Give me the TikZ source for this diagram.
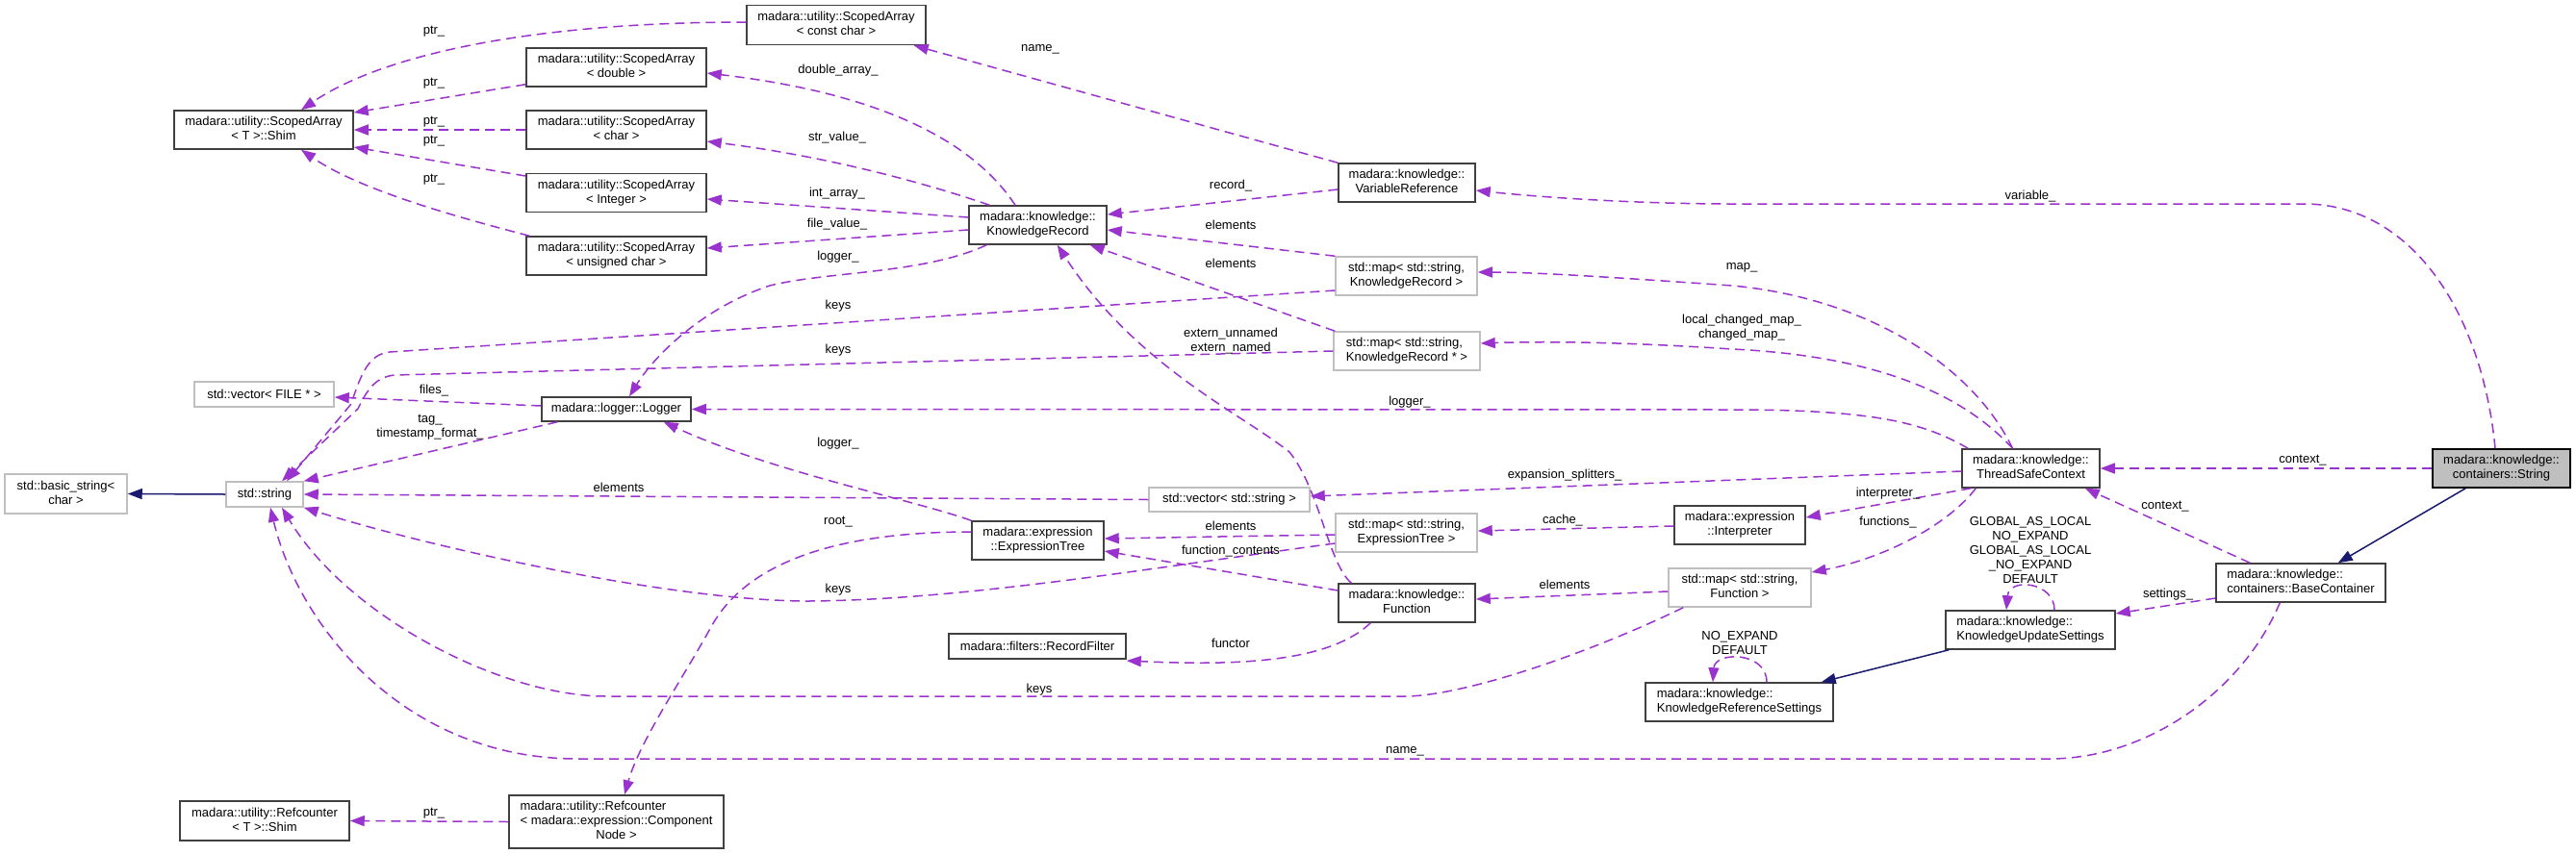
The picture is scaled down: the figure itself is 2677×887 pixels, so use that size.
\documentclass[tikz,border=0pt]{standalone}
\usepackage{fontspec}
\setmainfont{Liberation Sans}
\usetikzlibrary{arrows.meta}
\definecolor{purp}{HTML}{9A32CD}
\definecolor{navyb}{HTML}{191970}
\definecolor{grayb}{HTML}{BFBFBF}
\definecolor{boxb}{HTML}{404040}
\newcommand{\tl}[2]{\begin{tabular}{@{}l@{}}#1\\\multicolumn{1}{@{}c@{}}{#2}\end{tabular}}
\tikzset{
  txt/.style={font=\fontsize{13}{15}\selectfont},
  box/.style={txt, draw=boxb, fill=white, line width=1.5pt, inner sep=0pt, rectangle},
  gbox/.style={box, draw=grayb},
  lbl/.style={txt, inner sep=0pt, align=center},
  dep/.style={draw=purp, line width=1.5pt, dash pattern=on 10pt off 6pt, -{Triangle[length=15pt,width=11pt,fill=purp]}},
  inh/.style={draw=navyb, line width=1.5pt, -{Triangle[length=15pt,width=11pt,fill=navyb]}}
}
\begin{document}
\begin{tikzpicture}[x=1pt,y=-1pt]
\useasboundingbox (0,0) rectangle (2677,887);
% nodes
\node[box, minimum width=186pt, minimum height=41pt] (cchar) at (869,26) {\tl{madara::utility::ScopedArray}{< const char >}};
\node[box, minimum width=186pt, minimum height=40pt] (shim) at (274,135) {\tl{madara::utility::ScopedArray}{< T >::Shim}};
\node[box, minimum width=187pt, minimum height=40pt] (dbl) at (640.5,70) {\tl{madara::utility::ScopedArray}{< double >}};
\node[box, minimum width=187pt, minimum height=40pt] (chr) at (640.5,135) {\tl{madara::utility::ScopedArray}{< char >}};
\node[box, minimum width=187pt, minimum height=40pt] (intg) at (640.5,200.5) {\tl{madara::utility::ScopedArray}{< Integer >}};
\node[box, minimum width=187pt, minimum height=40pt] (uchar) at (640.5,266) {\tl{madara::utility::ScopedArray}{< unsigned char >}};
\node[gbox, minimum width=145pt, minimum height=26pt] (vfile) at (274.5,410) {std::vector< FILE * >};
\node[box, minimum width=155pt, minimum height=25pt] (logger) at (640.5,425.5) {madara::logger::Logger};
\node[box, minimum width=142pt, minimum height=40pt] (vr) at (1462,190) {\tl{madara::knowledge::}{VariableReference}};
\node[box, minimum width=143pt, minimum height=40pt] (kr) at (1078.5,234) {\tl{madara::knowledge::}{KnowledgeRecord}};
\node[gbox, minimum width=147pt, minimum height=40pt] (mapkr) at (1461.5,287) {\tl{std::map< std::string,}{KnowledgeRecord >}};
\node[gbox, minimum width=152pt, minimum height=40pt] (mapkrp) at (1462,365) {\tl{std::map< std::string,}{KnowledgeRecord * >}};
\node[gbox, minimum width=127pt, minimum height=41pt] (bstr) at (68.5,513.5) {\tl{std::basic\_string<}{char >}};
\node[gbox, minimum width=80pt, minimum height=26pt] (str) at (275,514) {std::string};
\node[box, minimum width=176pt, minimum height=41pt] (rcshim) at (275,853.5) {\tl{madara::utility::Refcounter}{< T >::Shim}};
\node[box, minimum width=223pt, minimum height=55pt] (rccn) at (640.5,854.5) {\begin{tabular}{@{}l@{}}madara::utility::Refcounter\\< madara::expression::Component\\\multicolumn{1}{@{}c@{}}{Node >}\end{tabular}};
\node[gbox, minimum width=167pt, minimum height=25pt] (vstr) at (1277.5,519.5) {std::vector< std::string >};
\node[box, minimum width=137pt, minimum height=40pt] (et) at (1078.5,562) {\tl{madara::expression}{::ExpressionTree}};
\node[gbox, minimum width=147pt, minimum height=40pt] (mapet) at (1461.5,554) {\tl{std::map< std::string,}{ExpressionTree >}};
\node[box, minimum width=136pt, minimum height=40pt] (interp) at (1808,546) {\tl{madara::expression}{::Interpreter}};
\node[box, minimum width=142pt, minimum height=40pt] (func) at (1462,627) {\tl{madara::knowledge::}{Function}};
\node[gbox, minimum width=148pt, minimum height=40pt] (mapfn) at (1808,611) {\tl{std::map< std::string,}{Function >}};
\node[box, minimum width=184pt, minimum height=26pt] (rf) at (1078,672) {madara::filters::RecordFilter};
\node[box, minimum width=195pt, minimum height=40pt] (krs) at (1807.5,730) {\tl{madara::knowledge::}{KnowledgeReferenceSettings}};
\node[box, minimum width=143pt, minimum height=40pt] (tsc) at (2110.5,487) {\tl{madara::knowledge::}{ThreadSafeContext}};
\node[box, fill=grayb, draw=black, minimum width=143pt, minimum height=40pt] (string) at (2599.5,487) {\tl{madara::knowledge::}{containers::String}};
\node[box, minimum width=176pt, minimum height=40pt] (bc) at (2391,606) {\tl{madara::knowledge::}{containers::BaseContainer}};
\node[box, minimum width=176pt, minimum height=40pt] (kus) at (2110,655) {\tl{madara::knowledge::}{KnowledgeUpdateSettings}};
% edges
\draw[dep] ([yshift=3pt]cchar.west) .. controls (560,23) and (400,55) .. ([xshift=39pt]shim.north);
\draw[dep] ([yshift=3pt]dbl.south west) -- ([yshift=18pt]shim.east);
\draw[dep] (chr.west) -- (shim.east);
\draw[dep] ([yshift=17.5pt]intg.west) -- ([yshift=-18pt]shim.east);
\draw[dep] ([xshift=4pt]uchar.north west) .. controls (460,222) and (370,195) .. ([xshift=39pt]shim.south);
\draw[dep] ([xshift=-23.5pt]kr.north) .. controls (1020,160) and (940,100) .. ([yshift=-6pt]dbl.east);
\draw[dep] ([xshift=22pt]kr.north west) .. controls (990,200) and (880,165) .. ([yshift=-12pt]chr.east);
\draw[dep] ([yshift=8pt]kr.west) -- ([yshift=-6.5pt]intg.east);
\draw[dep] ([yshift=-5pt]kr.west) -- ([yshift=8pt]uchar.east);
\draw[dep] ([xshift=19pt]kr.south west) .. controls (960,285) and (860,282) .. (800,297) .. controls (730,320) and (680,370) .. ([xshift=13.5pt]logger.north);
\draw[dep] (vr.north west) -- ([xshift=-13pt]cchar.south east);
\draw[dep] ([yshift=-7pt]vr.west) -- ([yshift=11pt]kr.east);
\draw[dep] (mapkr.north west) -- ([yshift=-5pt]kr.east);
\draw[dep] ([xshift=2pt]mapkrp.north west) -- ([xshift=-18pt]kr.south east);
\draw[dep] ([yshift=-15pt]mapkr.west) -- (405,366) .. controls (385,368) and (376,385) .. (365,420) -- ([xshift=23pt]str.north);
\draw[dep] (mapkrp.west) -- (410,390) .. controls (392,392) and (383,402) .. (372,425) -- ([xshift=18pt]str.north);
\draw[dep] ([yshift=3.5pt]logger.west) -- ([yshift=-3pt]vfile.east);
\draw[dep] ([xshift=17pt]logger.south west) -- (str.north east);
\draw[dep] ([xshift=7pt]tsc.north west) .. controls (2000,440) and (1950,426) .. (1800,426) -- (logger.east);
\draw[dep] ([xshift=-19pt]tsc.north) .. controls (2050,380) and (1940,310) .. (1800,297) .. controls (1700,290) and (1600,283) .. ([yshift=4pt]mapkr.east);
\draw[dep] ([xshift=-19pt]tsc.north) .. controls (2040,410) and (1950,370) .. (1800,363) .. controls (1680,355) and (1600,355) .. ([yshift=8pt]mapkrp.east);
\draw[dep] ([yshift=-3pt]tsc.west) -- ([yshift=3.5pt]vstr.east);
\draw[dep] ([xshift=10pt]tsc.south west) -- ([yshift=8pt]interp.east);
\draw[dep] ([xshift=15pt]tsc.south west) .. controls (2025,545) and (1960,580) .. ([yshift=16pt]mapfn.east);
\draw[dep] (string.west) -- (tsc.east);
\draw[dep] ([xshift=-6.5pt]string.north) .. controls (2580,330) and (2510,215) .. (2398,212) -- (1800,212) .. controls (1700,212) and (1600,205) .. ([yshift=-8pt]vr.east);
\draw[inh] ([xshift=35pt]string.south west) -- ([xshift=-50pt]bc.north east);
\draw[dep] ([xshift=36pt]bc.north west) -- ([xshift=-16pt]tsc.south east);
\draw[dep] ([yshift=-16pt]bc.west) -- ([yshift=17pt]kus.east);
\draw[dep] ([xshift=67pt]bc.south west) .. controls (2330,720) and (2230,789) .. (2130,789) -- (600,789) .. controls (420,789) and (310,650) .. ([xshift=6pt]str.south);
\draw[inh] ([xshift=4pt]kus.south west) -- ([xshift=-13pt]krs.north east);
\draw[dep] ([xshift=25pt]kus.north) .. controls (2135,605) and (2088,600) .. ([xshift=-25pt]kus.north);
\draw[dep] ([xshift=28.5pt]krs.north) .. controls (1836,677) and (1782,677) .. ([xshift=-27.5pt]krs.north);
\draw[dep] ([yshift=-4pt]mapfn.west) -- ([yshift=4pt]func.east);
\draw[dep] ([xshift=16pt]mapfn.south west) .. controls (1650,680) and (1520,724) .. (1460,724) -- (630,724) .. controls (520,724) and (360,640) .. ([xshift=18pt]str.south);
\draw[dep] ([yshift=13pt]func.west) -- ([yshift=-11pt]et.east);
\draw[dep] ([yshift=-2pt]mapet.west) -- ([yshift=2pt]et.east);
\draw[dep] ([yshift=-11pt]mapet.west) .. controls (1200,590) and (1000,624) .. (840,625) .. controls (700,625) and (450,570) .. (str.south east);
\draw[dep] ([yshift=-1pt]interp.west) -- ([yshift=2pt]mapet.east);
\draw[dep] (et.north west) .. controls (950,520) and (800,490) .. ([xshift=-29pt]logger.south east);
\draw[dep] ([yshift=9pt]et.west) .. controls (880,553) and (780,580) .. (740,650) .. controls (710,705) and (665,770) .. ([xshift=8.5pt]rccn.north);
\draw[dep] ([xshift=14pt]func.north west) .. controls (1380,585) and (1372,510) .. (1340,470) .. controls (1290,430) and (1180,380) .. ([xshift=-52pt]kr.south east);
\draw[dep] ([xshift=34pt]func.south west) .. controls (1380,690) and (1280,692) .. ([yshift=-15pt]rf.east);
\draw[dep] (rccn.west) -- (rcshim.east);
\draw[inh] (str.west) -- (bstr.east);
\draw[dep] (vstr.west) -- (str.east);
% labels
\node[lbl] (l1) at (451,33) {ptr\_};
\node[lbl] (l2) at (451,87) {ptr\_};
\node[lbl] (l3) at (451,127) {ptr\_};
\node[lbl] (l4) at (451,147) {ptr\_};
\node[lbl] (l5) at (451,187) {ptr\_};
\node[lbl] (l6) at (871,73) {double\_array\_};
\node[lbl] (l7) at (870,143) {str\_value\_};
\node[lbl] (l8) at (870,201) {int\_array\_};
\node[lbl] (l9) at (870,233) {file\_value\_};
\node[lbl] (l10) at (871,267) {logger\_};
\node[lbl] (l11) at (871,318) {keys};
\node[lbl] (l12) at (871,364) {keys};
\node[lbl] (l13) at (451,406) {files\_};
\node[lbl] (l14) at (447,444) {tag\_\\timestamp\_format\_};
\node[lbl] (l15) at (1081,51) {name\_};
\node[lbl] (l16) at (1279,193) {record\_};
\node[lbl] (l17) at (1279,234) {elements};
\node[lbl] (l18) at (1279,274) {elements};
\node[lbl] (l19) at (1279,355) {extern\_unnamed\\extern\_named};
\node[lbl] (l20) at (1465,418) {logger\_};
\node[lbl] (l21) at (1810,278) {map\_};
\node[lbl] (l22) at (1810,341) {local\_changed\_map\_\\changed\_map\_};
\node[lbl] (l23) at (2110,204) {variable\_};
\node[lbl] (l24) at (643,507) {elements};
\node[lbl] (l25) at (871,543) {root\_};
\node[lbl] (l26) at (871,613) {keys};
\node[lbl] (l27) at (871,461) {logger\_};
\node[lbl] (l28) at (451,846) {ptr\_};
\node[lbl] (l29) at (1626,494) {expansion\_splitters\_};
\node[lbl] (l30) at (1279,547) {elements};
\node[lbl] (l31) at (1624,541) {cache\_};
\node[lbl] (l32) at (1279,573) {function\_contents};
\node[lbl] (l33) at (1626,608) {elements};
\node[lbl] (l34) at (1279,669) {functor};
\node[lbl] (l35) at (1080,717) {keys};
\node[lbl] (l36) at (1808,669) {NO\_EXPAND\\DEFAULT};
\node[lbl] (l37) at (1460,781) {name\_};
\node[lbl] (l38) at (2393,479) {context\_};
\node[lbl] (l39) at (1962,513) {interpreter\_};
\node[lbl] (l40) at (1962,543) {functions\_};
\node[lbl] (l41) at (2250,527) {context\_};
\node[lbl] (l42) at (2110,572) {GLOBAL\_AS\_LOCAL\\NO\_EXPAND\\GLOBAL\_AS\_LOCAL\\\_NO\_EXPAND\\DEFAULT};
\node[lbl] (l43) at (2253,618) {settings\_};
\end{tikzpicture}
\end{document}
